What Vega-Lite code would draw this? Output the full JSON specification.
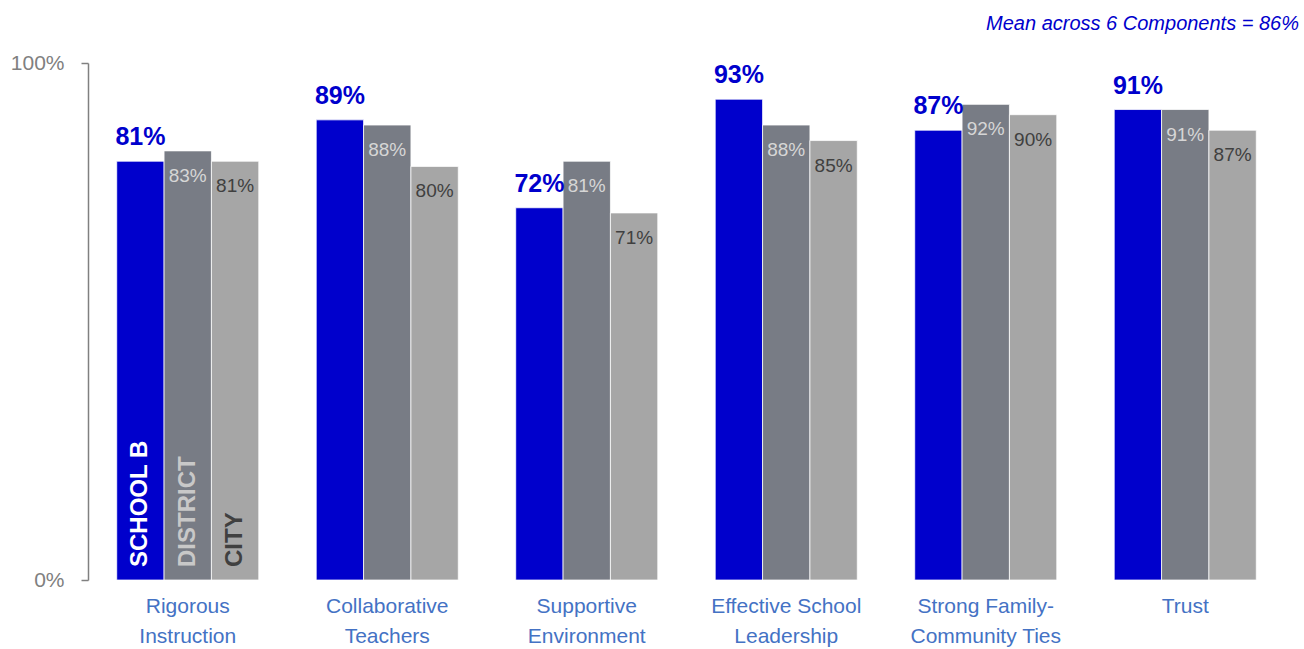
{
  "$schema": "https://vega.github.io/schema/vega-lite/v6.json",
  "width": 1197,
  "height": 517,
  "autosize": {"type": "none"},
  "padding": {"left": 88, "top": 63, "right": 19, "bottom": 69},
  "background": "white",
  "config": {
    "view": {"stroke": null},
    "font": "Liberation Sans",
    "text": {"font": "Liberation Sans"}
  },
  "title": {
    "text": "Mean across 6 Components = 86%",
    "anchor": "end",
    "frame": "group",
    "dx": 14,
    "offset": 18,
    "font": "Liberation Sans",
    "fontSize": 20,
    "fontStyle": "italic",
    "fontWeight": "normal",
    "color": "#0000CC"
  },
  "data": {
    "values": [
      {"component": "Rigorous\nInstruction", "series": "School B", "value": 81, "tag": "SCHOOL B"},
      {"component": "Rigorous\nInstruction", "series": "District", "value": 83, "tag": "DISTRICT"},
      {"component": "Rigorous\nInstruction", "series": "City", "value": 81, "tag": "CITY"},
      {"component": "Collaborative\nTeachers", "series": "School B", "value": 89},
      {"component": "Collaborative\nTeachers", "series": "District", "value": 88},
      {"component": "Collaborative\nTeachers", "series": "City", "value": 80},
      {"component": "Supportive\nEnvironment", "series": "School B", "value": 72},
      {"component": "Supportive\nEnvironment", "series": "District", "value": 81},
      {"component": "Supportive\nEnvironment", "series": "City", "value": 71},
      {"component": "Effective School\nLeadership", "series": "School B", "value": 93},
      {"component": "Effective School\nLeadership", "series": "District", "value": 88},
      {"component": "Effective School\nLeadership", "series": "City", "value": 85},
      {"component": "Strong Family-\nCommunity Ties", "series": "School B", "value": 87},
      {"component": "Strong Family-\nCommunity Ties", "series": "District", "value": 92},
      {"component": "Strong Family-\nCommunity Ties", "series": "City", "value": 90},
      {"component": "Trust", "series": "School B", "value": 91},
      {"component": "Trust", "series": "District", "value": 91},
      {"component": "Trust", "series": "City", "value": 87}
    ]
  },
  "transform": [{"calculate": "datum.value + '%'", "as": "lbl"}],
  "encoding": {
    "x": {
      "field": "component",
      "type": "nominal",
      "sort": null,
      "title": null,
      "scale": {"paddingInner": 0.288, "paddingOuter": 0.144},
      "axis": {
        "domain": false,
        "ticks": false,
        "labelAngle": 0,
        "labelFontSize": 21,
        "labelColor": "#4472C4",
        "labelPadding": 15,
        "labelLineHeight": 30,
        "labelBaseline": "top",
        "labelExpr": "split(datum.label, '\\n')"
      }
    },
    "xOffset": {
      "field": "series",
      "type": "nominal",
      "sort": ["School B", "District", "City"],
      "scale": {"paddingInner": 0, "paddingOuter": 0}
    },
    "y": {
      "field": "value",
      "type": "quantitative",
      "title": null,
      "scale": {"domain": [0, 100], "nice": false, "zero": true},
      "axis": {
        "values": [0, 100],
        "grid": false,
        "domainColor": "#808080",
        "domainWidth": 1.5,
        "tickColor": "#808080",
        "tickWidth": 1.5,
        "tickSize": 7,
        "labelFontSize": 21,
        "labelColor": "#808080",
        "labelPadding": 17,
        "labelExpr": "datum.value + '%'"
      }
    }
  },
  "layer": [
    {
      "mark": {"type": "bar", "stroke": "#ffffff", "strokeWidth": 0.75},
      "encoding": {
        "color": {
          "field": "series",
          "type": "nominal",
          "scale": {"domain": ["School B", "District", "City"], "range": ["#0000CC", "#787C85", "#A6A6A6"]},
          "legend": null
        }
      }
    },
    {
      "transform": [{"filter": "datum.series === 'School B'"}],
      "mark": {"type": "text", "baseline": "alphabetic", "dy": -16, "fontSize": 25, "fontWeight": "bold", "fill": "#0000CC"},
      "encoding": {"text": {"field": "lbl"}}
    },
    {
      "transform": [{"filter": "datum.series === 'District'"}],
      "mark": {"type": "text", "baseline": "middle", "dy": 25, "fontSize": 19, "fill": "#D6D6D6"},
      "encoding": {"text": {"field": "lbl"}}
    },
    {
      "transform": [{"filter": "datum.series === 'City'"}],
      "mark": {"type": "text", "baseline": "middle", "dy": 25, "fontSize": 19, "fill": "#404040"},
      "encoding": {"text": {"field": "lbl"}}
    },
    {
      "transform": [{"filter": "datum.tag != null"}],
      "mark": {"type": "text", "angle": 270, "align": "left", "baseline": "middle", "dx": 13, "fontSize": 24, "fontWeight": "bold"},
      "encoding": {
        "y": {"datum": 0},
        "text": {"field": "tag"},
        "fill": {
          "field": "series",
          "type": "nominal",
          "scale": {"domain": ["School B", "District", "City"], "range": ["#FFFFFF", "#C8C8C8", "#404040"]},
          "legend": null
        }
      }
    }
  ]
}
